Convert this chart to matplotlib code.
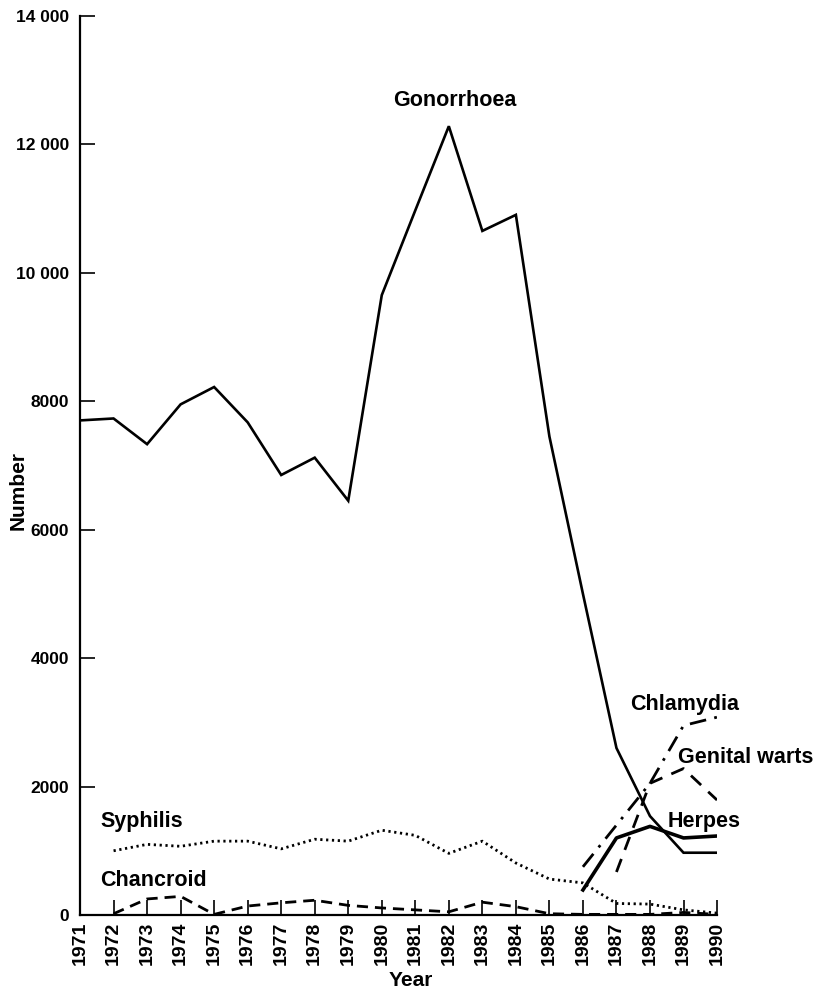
import numpy as np
import matplotlib
matplotlib.use("Agg")
import matplotlib.pyplot as plt

plt.rcParams['font.family'] = ['Liberation Sans', 'DejaVu Sans']
plt.rcParams['font.weight'] = 'bold'

# =============================================================================
# Data
# =============================================================================
years = list(range(1971, 1991))

gonorrhoea = [7700, 7730, 7330, 7950, 8220, 7670, 6850, 7120, 6450, 9650,
              10970, 12280, 10650, 10900, 7450, 5000, 2600, 1540, 970, 970]

syphilis_years = list(range(1972, 1991))
syphilis = [1000, 1100, 1070, 1150, 1150, 1030, 1180, 1150, 1320, 1240,
            960, 1150, 810, 560, 500, 180, 170, 80, 30]

chancroid_years = list(range(1972, 1991))
chancroid = [20, 250, 290, 10, 140, 190, 230, 150, 110, 80,
             50, 200, 130, 20, 10, 10, 10, 40, 10]

herpes_years = [1986, 1987, 1988, 1989, 1990]
herpes = [390, 1200, 1380, 1200, 1230]

chlamydia_years = [1986, 1987, 1988, 1989, 1990]
chlamydia = [750, 1400, 2050, 2950, 3080]

warts_years = [1987, 1988, 1989, 1990]
warts = [670, 2050, 2280, 1790]

y_ticks = [0, 2000, 4000, 6000, 8000, 10000, 12000, 14000]
y_labels = ['0', '2000', '4000', '6000', '8000', '10 000', '12 000', '14 000']

# =============================================================================
# Plot
# =============================================================================
fig = plt.figure(figsize=(8.15, 9.89), dpi=100)
ax = fig.add_axes([0.0982, 0.0748, 0.7816, 0.9093])

ax.plot(years, gonorrhoea, color='black', lw=1.9, solid_joinstyle='miter')
ax.plot(syphilis_years, syphilis, color='black', lw=2.0, linestyle=(0, (0.8, 1.3)))
ax.plot(chancroid_years, chancroid, color='black', lw=2.0, linestyle=(0, (4, 2.5)))
ax.plot(herpes_years, herpes, color='black', lw=2.6)
ax.plot(chlamydia_years, chlamydia, color='black', lw=2.0, linestyle=(0, (6, 3, 1, 3)))
ax.plot(warts_years, warts, color='black', lw=2.0, linestyle=(0, (5, 3.5)))

fs = 15.5
ax.text(1982.18, 12685, 'Gonorrhoea', ha='center', va='center', fontsize=fs)
ax.text(1987.40, 3270, 'Chlamydia', ha='left', va='center', fontsize=fs)
ax.text(1988.83, 2460, 'Genital warts', ha='left', va='center', fontsize=fs)
ax.text(1988.54, 1450, 'Herpes', ha='left', va='center', fontsize=fs)
ax.text(1971.6, 1450, 'Syphilis', ha='left', va='center', fontsize=fs)
ax.text(1971.6, 545, 'Chancroid', ha='left', va='center', fontsize=fs)

ax.set_xlim(1971, 1990)
ax.set_ylim(0, 14000)
ax.set_xticks(years)
ax.set_xticklabels([str(y) for y in years], rotation=90, fontsize=14)
ax.set_yticks(y_ticks)
ax.set_yticklabels(y_labels, fontsize=12.5)
ax.tick_params(axis='both', direction='in', length=11, width=1.2, color='black')
ax.tick_params(axis='y', pad=8)
ax.tick_params(axis='x', pad=5)

for side in ['top', 'right']:
    ax.spines[side].set_visible(False)
for side in ['left', 'bottom']:
    ax.spines[side].set_linewidth(1.6)

fig.text(411 / 815, 1 - 980 / 989, 'Year', ha='center', va='center', fontsize=15)
fig.text(18 / 815, 1 - 490 / 989, 'Number', ha='center', va='center',
         rotation=90, fontsize=15)

plt.savefig('out.png', dpi=100)
